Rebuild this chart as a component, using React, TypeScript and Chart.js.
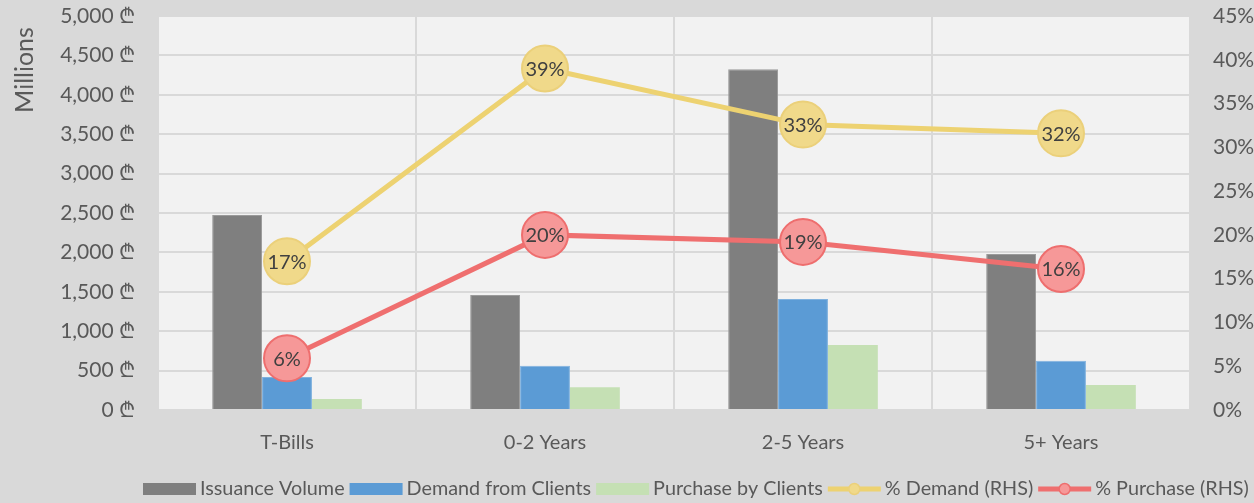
import React, { useEffect, useRef } from 'react';
import { Chart, registerables } from 'chart.js';

Chart.register(...registerables);

const categories = ['T-Bills', '0-2 Years', '2-5 Years', '5+ Years'];
const issuanceVolume = [2475, 1460, 4325, 1980];
const demandFromClients = [420, 560, 1410, 625];
const purchaseByClients = [140, 290, 825, 318];
const pctDemand = [0.17, 0.39, 0.326, 0.316];
const pctPurchase = [0.059, 0.2, 0.192, 0.161];
const seriesLabels = ['Issuance Volume', 'Demand from Clients', 'Purchase by Clients', '% Demand (RHS)', '% Purchase (RHS)'];

const FONT = 'Lato, "Open Sans", sans-serif';
const TXT = '#595959';

const extrasPlugin = {
  id: 'extras',
  beforeDraw(chart: any) {
    const { ctx, chartArea } = chart;
    ctx.save();
    ctx.fillStyle = '#f2f2f2';
    ctx.fillRect(chartArea.left, chartArea.top, chartArea.right - chartArea.left, chartArea.bottom - chartArea.top);
    ctx.restore();
  },
  afterDatasetsDraw(chart: any) {
    const ctx = chart.ctx;
    ctx.save();
    ctx.font = `20px ${FONT}`;
    ctx.fillStyle = '#404040';
    ctx.textAlign = 'center';
    ctx.textBaseline = 'middle';
    chart.data.datasets.forEach((ds: any, i: number) => {
      if (ds.type !== 'line') return;
      const meta = chart.getDatasetMeta(i);
      meta.data.forEach((pt: any, j: number) => {
        const v = ds.data[j] as number;
        ctx.fillText(Math.round(v * 100) + '%', pt.x, pt.y + 1);
      });
    });
    ctx.restore();
  },
  afterDraw(chart: any) {
    const ctx = chart.ctx;
    ctx.save();
    ctx.font = `25px ${FONT}`;
    ctx.fillStyle = TXT;
    ctx.textAlign = 'center';
    ctx.textBaseline = 'middle';
    ctx.translate(25, 70);
    ctx.rotate(-Math.PI / 2);
    ctx.fillText('Millions', 0, 0);
    ctx.restore();

    ctx.save();
    ctx.font = `19.8px ${FONT}`;
    ctx.textBaseline = 'middle';
    ctx.textAlign = 'left';
    const y = 489;
    const boxW = 53;
    let x = 143;
    chart.data.datasets.forEach((ds: any) => {
      if (ds.type === 'line') {
        ctx.strokeStyle = ds.borderColor;
        ctx.lineWidth = 5;
        ctx.beginPath();
        ctx.moveTo(x, y);
        ctx.lineTo(x + boxW, y);
        ctx.stroke();
        ctx.beginPath();
        ctx.arc(x + boxW / 2, y, 5.5, 0, Math.PI * 2);
        ctx.fillStyle = ds.pointBackgroundColor;
        ctx.fill();
        ctx.lineWidth = 1.5;
        ctx.strokeStyle = ds.pointBorderColor;
        ctx.stroke();
      } else {
        ctx.fillStyle = ds.backgroundColor;
        ctx.fillRect(x, y - 6, boxW, 12);
      }
      x += boxW + 4;
      ctx.fillStyle = TXT;
      ctx.fillText(ds.label, x, y);
      x += ctx.measureText(ds.label).width + 5;
    });
    ctx.restore();
  },
};

const noEdgePad = (s: any, w: number) => {
  s.width = w;
  s.paddingTop = 0;
  s.paddingBottom = 0;
};

export default function App() {
  const ref = useRef<HTMLCanvasElement>(null);
  useEffect(() => {
    const chart = new Chart(ref.current as HTMLCanvasElement, {
      type: 'bar',
      data: {
        labels: categories,
        datasets: [
          { type: 'bar', label: seriesLabels[0], data: issuanceVolume, backgroundColor: '#7f7f7f', borderColor: '#9a9a9a', borderWidth: 1, yAxisID: 'y', order: 1 },
          { type: 'bar', label: seriesLabels[1], data: demandFromClients, backgroundColor: '#5b9bd5', borderColor: '#7fb1de', borderWidth: 1, yAxisID: 'y', order: 1 },
          { type: 'bar', label: seriesLabels[2], data: purchaseByClients, backgroundColor: '#c5e0b4', borderColor: '#c5e0b4', borderWidth: 0, yAxisID: 'y', order: 1 },
          { type: 'line', label: seriesLabels[3], data: pctDemand, borderColor: '#edd271', borderWidth: 5, pointRadius: 23, pointBackgroundColor: '#f0d98a', pointBorderColor: '#ebd07a', pointBorderWidth: 2, yAxisID: 'y1', order: 0, clip: false },
          { type: 'line', label: seriesLabels[4], data: pctPurchase, borderColor: '#ef6f6f', borderWidth: 5, pointRadius: 23, pointBackgroundColor: '#f69898', pointBorderColor: '#ee6e6e', pointBorderWidth: 2, yAxisID: 'y1', order: 0, clip: false },
        ] as any,
      },
      options: {
        responsive: true,
        maintainAspectRatio: false,
        animation: false,
        layout: { autoPadding: false, padding: { top: 16, left: 0, right: 0, bottom: 0 } },
        datasets: { bar: { categoryPercentage: 0.58, barPercentage: 1 } } as any,
        plugins: { legend: { display: false }, tooltip: { enabled: false } },
        scales: {
          x: {
            offset: true,
            grid: { color: '#d9d9d9', lineWidth: 2, drawTicks: false, offset: true },
            border: { display: false },
            ticks: { color: TXT, font: { family: FONT, size: 20 }, padding: 21 },
            afterFit: (s: any) => { s.height = 93; s.paddingLeft = 0; s.paddingRight = 0; },
          },
          y: {
            position: 'left',
            min: 0,
            max: 5000,
            ticks: {
              stepSize: 500,
              color: TXT,
              font: { family: FONT, size: 21 },
              padding: 23,
              callback: (v: any) => Number(v).toLocaleString('en-US') + ' \u20BE',
            },
            grid: { color: '#d9d9d9', lineWidth: 2, drawTicks: false },
            border: { display: false },
            afterFit: (s: any) => noEdgePad(s, 158),
          },
          y1: {
            position: 'right',
            min: 0,
            max: 0.45,
            ticks: {
              stepSize: 0.05,
              color: TXT,
              font: { family: FONT, size: 21 },
              padding: 23,
              callback: (v: any) => Math.round(Number(v) * 100) + '%',
            },
            grid: { display: false, drawTicks: false },
            border: { display: false },
            afterFit: (s: any) => noEdgePad(s, 64),
          },
        },
      },
      plugins: [extrasPlugin],
    } as any);
    return () => chart.destroy();
  }, []);
  return (
    <div style={{ position: 'fixed', left: 0, top: 0, width: 1254, height: 503, background: '#d9d9d9' }}>
      <canvas ref={ref} />
    </div>
  );
}
